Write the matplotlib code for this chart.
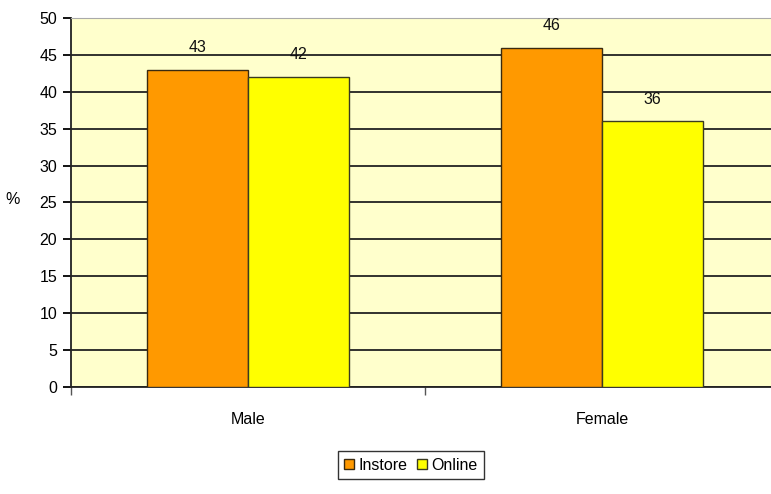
import matplotlib.pyplot as plt
import numpy as np

categories = ['Male', 'Female']
instore = [43, 46]
online = [42, 36]
series_names = ['Instore', 'Online']
y_ticks = [0, 5, 10, 15, 20, 25, 30, 35, 40, 45, 50]

plt.rcParams['font.family'] = ['Liberation Sans', 'DejaVu Sans']
FS = 11.5

fig = plt.figure(figsize=(7.71, 4.94), dpi=100)
W, H = 771, 494
ax = fig.add_axes([71 / W, (H - 387) / H, (779 - 71) / W, (387 - 18) / H])
ax.set_facecolor('#FFFFCC')

x = np.arange(len(categories)) + 0.5
bw = 0.285
b1 = ax.bar(x - bw / 2, instore, bw, color='#FF9900', edgecolor='#3a2a10', linewidth=1,
            label=series_names[0], zorder=3)
b2 = ax.bar(x + bw / 2, online, bw, color='#FFFF00', edgecolor='#3a3a20', linewidth=1,
            label=series_names[1], zorder=3)

for bars in (b1, b2):
    for r in bars:
        ax.text(r.get_x() + r.get_width() / 2, r.get_height() + 2.0, str(int(r.get_height())),
                ha='center', va='bottom', fontsize=FS, color='#111111')

ax.set_xlim(0, 2)
ax.set_ylim(0, 50)
ax.set_yticks(y_ticks)
ax.yaxis.grid(True, color='#222222', linewidth=1.3, zorder=1)
ax.set_axisbelow(True)
ax.tick_params(axis='y', direction='out', length=6, width=1.3, labelsize=FS, pad=4)

ax.set_xticks([0, 1, 2])
ax.set_xticklabels([])
ax.tick_params(axis='x', direction='out', length=6, width=1, color='#555555')
ax.set_xticks(x, minor=True)
ax.set_xticklabels(categories, minor=True, fontsize=FS)
ax.tick_params(axis='x', which='minor', length=0, pad=18)

ax.spines['left'].set_color('#222222')
ax.spines['left'].set_linewidth(1.3)
ax.spines['bottom'].set_color('#222222')
ax.spines['bottom'].set_linewidth(1.3)
ax.spines['top'].set_color('#aaaaaa')
ax.spines['right'].set_visible(False)

fig.text(13 / W, 1 - 199 / H, '%', fontsize=FS, ha='center', va='center')

leg = fig.legend(handles=[b1, b2], loc='center', bbox_to_anchor=(411 / W, 1 - 465 / H),
                 ncol=2, fontsize=FS, frameon=True, fancybox=False, edgecolor='black',
                 handlelength=0.6, handleheight=0.6, handletextpad=0.3, columnspacing=0.6,
                 borderpad=0.4)
leg.get_frame().set_linewidth(1)

fig.savefig('out.png', dpi=100)
